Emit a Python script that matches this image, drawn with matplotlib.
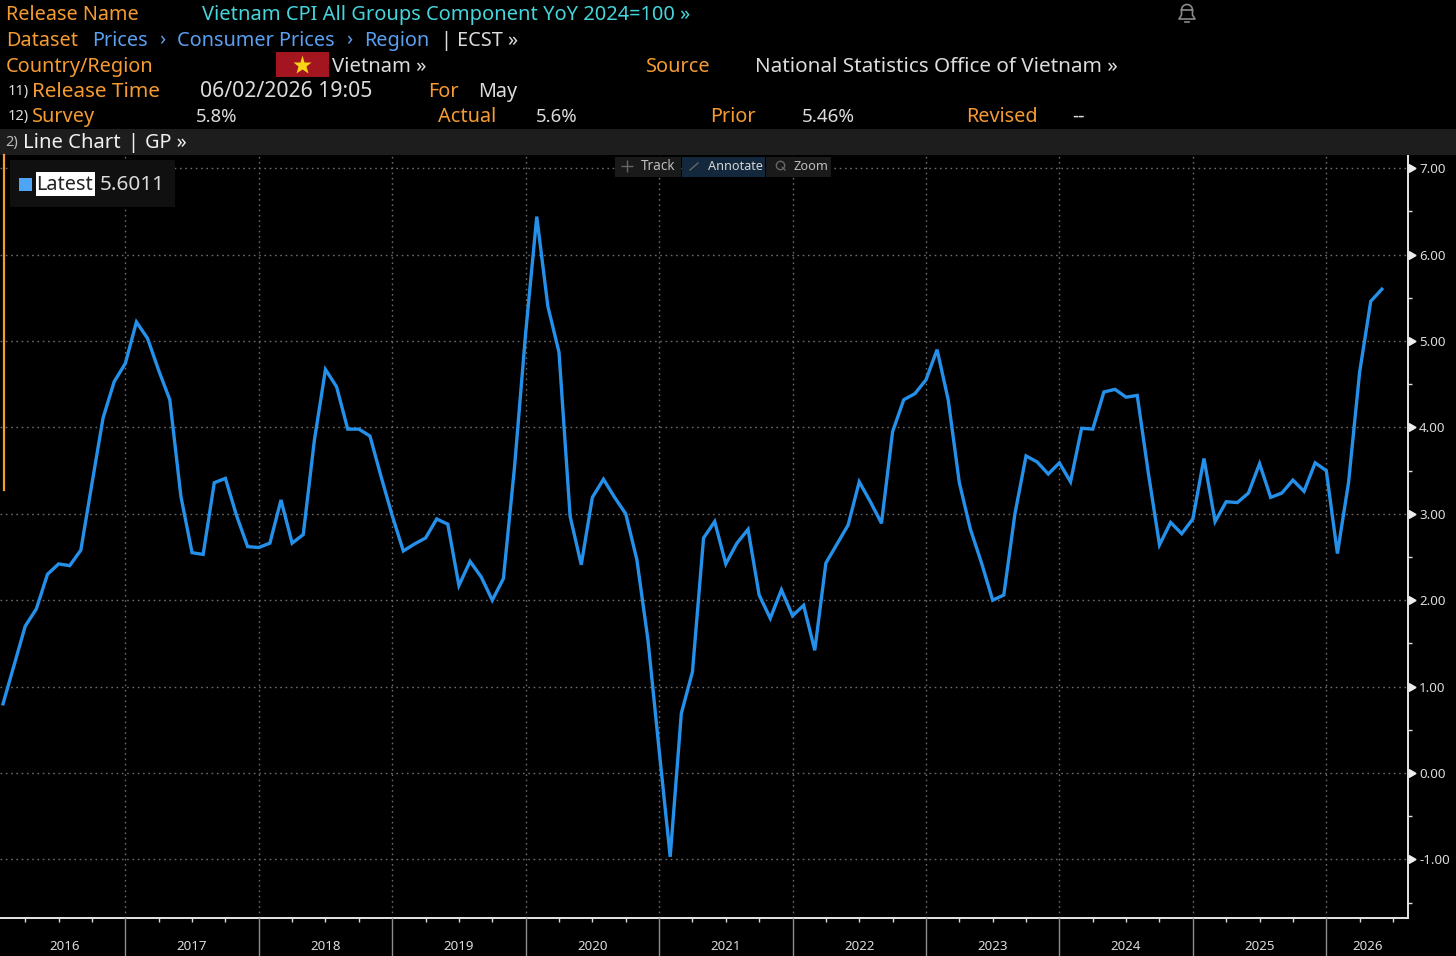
import numpy as np
import matplotlib
matplotlib.use("Agg")
import matplotlib.pyplot as plt
from matplotlib.patches import Rectangle

# ---------- data ----------
cpi_yoy = [0.80,1.25,1.70,1.90,2.30,2.42,2.40,2.58,3.35,4.11,4.53,4.74,
           5.22,5.03,4.66,4.32,3.20,2.55,2.53,3.36,3.41,2.98,2.62,2.61,
           2.66,3.16,2.66,2.76,3.85,4.67,4.47,3.98,3.98,3.90,3.43,2.98,
           2.57,2.65,2.72,2.94,2.88,2.17,2.45,2.27,2.00,2.25,3.54,5.09,
           6.44,5.40,4.87,2.97,2.41,3.19,3.40,3.19,3.00,2.47,1.54,0.27,
           -0.97,0.69,1.17,2.72,2.91,2.42,2.66,2.82,2.06,1.79,2.12,1.82,
           1.94,1.42,2.43,2.65,2.87,3.37,3.14,2.89,3.95,4.32,4.39,4.55,
           4.90,4.32,3.36,2.82,2.43,2.00,2.06,3.00,3.67,3.60,3.46,3.59,
           3.37,3.99,3.98,4.41,4.44,4.35,4.37,3.47,2.64,2.90,2.77,2.94,
           3.64,2.91,3.14,3.13,3.24,3.58,3.19,3.24,3.39,3.26,3.59,3.50,
           2.54,3.36,4.64,5.46,5.60]
year_labels = ["2016","2017","2018","2019","2020","2021","2022","2023","2024","2025","2026"]
year_boundaries = [11,23,35,47,59,71,83,95,107,119]
y_major = [-1,0,1,2,3,4,5,6,7]
y_minor = [-1.5,-0.5,0.5,1.5,2.5,3.5,4.5,5.5,6.5]

W, H = 1456, 956
BG = "#000000"
ORANGE = "#f59b32"
CYAN = "#45d6dc"
LINK = "#5b9ff0"
WHITE = "#dcdcdc"
FONT = ["Noto Sans", "DejaVu Sans"]

fig = plt.figure(figsize=(W/100, H/100), dpi=100, facecolor=BG)

# ---------- chart axes ----------
x0, x1, ytop, ybot = 0, 1408, 155, 918
ax = fig.add_axes([x0/W, 1-ybot/H, (x1-x0)/W, (ybot-ytop)/H], facecolor=BG)
ax.set_xlim((0-3)/11.12, (1408-3)/11.12)
ax.set_ylim((773-918)/86.4, (773-155)/86.4)
months = np.arange(len(cpi_yoy))

ax.yaxis.tick_right()
ax.set_yticks(y_major)
ax.set_yticks(y_minor, minor=True)
ax.set_yticklabels([f"{v:.2f}" for v in y_major], color=WHITE, fontsize=9.6, family=FONT)
ax.tick_params(axis="y", which="major", length=0, pad=8)
ax.tick_params(axis="y", which="minor", length=3, width=1, color="#dddddd", direction="out")
ax.set_xticks(year_boundaries)
ax.set_xticklabels([])
ax.set_xticks(np.arange(2, 127, 3), minor=True)
ax.tick_params(axis="x", which="minor", length=3, width=1, color="#dddddd", direction="out")
ax.tick_params(axis="x", which="major", length=0)
ax.grid(True, which="major", color="#6a6a6a", linestyle=(0, (1.2, 2.6)), linewidth=1)
ax.set_axisbelow(True)
for s in ("top", "left"):
    ax.spines[s].set_visible(False)
for s in ("right", "bottom"):
    ax.spines[s].set_color("#e6e6e6")
    ax.spines[s].set_linewidth(1.4)

ax.plot(months, cpi_yoy, color="#2490ea", lw=2.4, solid_joinstyle="miter", zorder=3)

# value-axis triangles
ax.plot([ax.get_xlim()[1]+0.3]*len(y_major), y_major, linestyle="none", marker=(3, 0, -90),
        markersize=6.5, color="#eeeeee", clip_on=False, zorder=4)

# ---------- overlay in pixel coordinates ----------
ov = fig.add_axes([0, 0, 1, 1], facecolor="none")
ov.set_xlim(0, W); ov.set_ylim(H, 0); ov.axis("off")

def T(x, y, s, c=WHITE, size=14.3, **kw):
    kw.setdefault("va", "center")
    kw.setdefault("ha", "left")
    return ov.text(x, y+1.5, s, color=c, fontsize=size, family=FONT, **kw)

ov.add_patch(Rectangle((0, 129), W, 26, fc="#1d1d1d", ec="none"))

T(6, 13, "Release Name", ORANGE)
T(202, 13, "Vietnam CPI All Groups Component YoY 2024=100 »", CYAN, size=14.45)
T(6, 39, "Dataset", ORANGE)
T(92, 39, "Prices", LINK)
T(159, 39, "›", LINK)
T(177, 39, "Consumer Prices", LINK)
T(346, 39, "›", LINK)
T(364, 39, "Region", LINK)
T(441, 39, "| ECST »", WHITE)
T(6, 65, "Country/Region", ORANGE)
ov.add_patch(Rectangle((276, 52), 53, 25, fc="#a3161f", ec="none"))
ov.plot([302], [64.5], marker="*", markersize=14, color="#f7d417", mec="none")
T(332, 65, "Vietnam »", WHITE, size=14.6)
T(646, 65, "Source", ORANGE)
T(755, 65, "National Statistics Office of Vietnam »", WHITE, size=14.9)
T(8, 90, "11)", WHITE, size=10.5)
T(32, 90, "Release Time", ORANGE, size=14.9)
T(200, 90, "06/02/2026 19:05", WHITE, size=15.3)
T(428, 90, "For", ORANGE)
T(478, 90, "May", WHITE)
T(8, 115, "12)", WHITE, size=10.5)
T(32, 115, "Survey", ORANGE)
T(196, 115, "5.8%", WHITE, size=13.4)
T(438, 115, "Actual", ORANGE)
T(536, 115, "5.6%", WHITE, size=13.4)
T(710, 115, "Prior", ORANGE)
T(802, 115, "5.46%", WHITE, size=13.6)
T(966, 115, "Revised", ORANGE)
T(1072, 115, "--", WHITE)
T(5, 141, "2)", "#bbbbbb", size=10.5)
T(23, 141, "Line Chart", "#f0f0f0", size=14.6)
T(127, 141, "|", "#f0f0f0")
T(145, 141, "GP »", "#f0f0f0")

# bell
bx, by = 1187, 12
ov.add_patch(matplotlib.patches.Wedge((bx, by-2), 5.5, 180, 360, fc="none", ec="#8a8a8a", lw=1.2))
ov.plot([bx-5.5, bx-5.5, bx-8, bx+8, bx+5.5, bx+5.5], [by-2, by+3, by+7, by+7, by+3, by-2], color="#8a8a8a", lw=1.2)
ov.plot([bx-2, bx+2], [by+10, by+10], color="#8a8a8a", lw=1.2)

# orange marker, legend
ov.plot([3.5, 3.5], [155, 490], color=ORANGE, lw=1.6)
ov.add_patch(Rectangle((10, 160), 165, 47, fc="#101010", ec="none"))
ov.add_patch(Rectangle((19, 178), 13, 13, fc="#4ea5f5", ec="none"))
ov.add_patch(Rectangle((36, 172), 59, 24, fc="#ffffff", ec="none"))
T(36, 183.5, "Latest", "#222222")
T(100, 183.5, "5.6011", WHITE, size=14.9)

# toolbar
ov.add_patch(Rectangle((615, 157), 66, 20, fc="#1a1a1a", ec="none"))
ov.add_patch(Rectangle((682, 157), 83, 20, fc="#13283c", ec="none"))
ov.add_patch(Rectangle((766, 157), 65, 20, fc="#1a1a1a", ec="none"))
ov.plot([627], [166], marker="+", markersize=9, color="#666666", mew=1)
ov.plot([690, 698], [170, 163], color="#666666", lw=1)
ov.plot([780], [165], marker="o", markersize=6, mfc="none", mec="#666666")
ov.plot([782.5, 785], [167.5, 170], color="#666666", lw=1)
T(641, 165, "Track", "#bdbdbd", size=9.8)
T(708, 165, "Annotate", "#d5d5d5", size=9.1)
T(794, 165, "Zoom", "#bdbdbd", size=9.2)

# year separators & labels
for b in year_boundaries:
    px = 3 + b*11.12
    ov.plot([px, px], [918, 956], color="#8c8c8c", lw=1)
edges = [3] + [3 + b*11.12 for b in year_boundaries] + [1408]
for i, lab in enumerate(year_labels):
    T((edges[i]+edges[i+1])/2, 944.5, lab, WHITE, size=9.6, ha="center")

fig.savefig("out.png", dpi=100, facecolor=BG)
